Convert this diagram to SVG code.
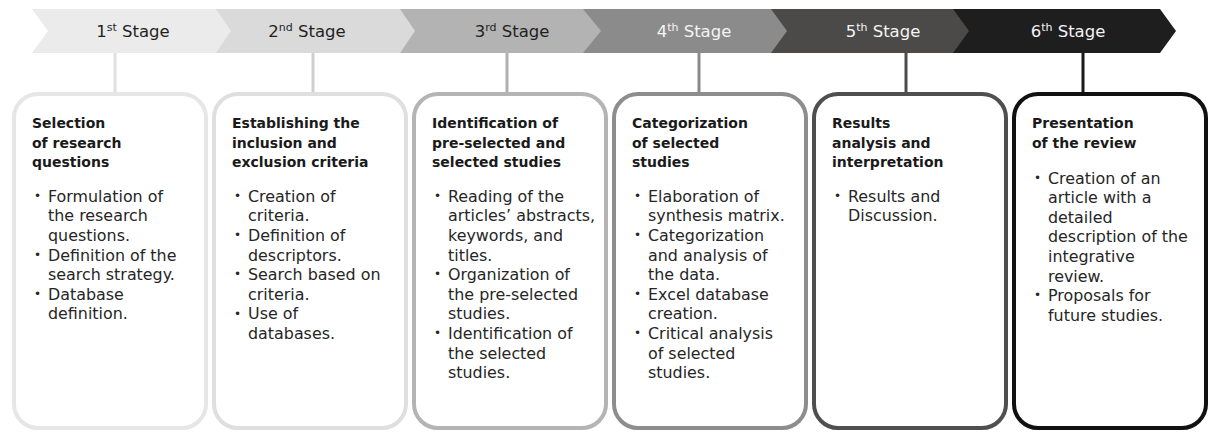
<svg xmlns="http://www.w3.org/2000/svg" width="1210" height="432" viewBox="0 0 1210 432">
<style>
.lbl{font-family:"DejaVu Sans",sans-serif;font-size:16.5px;text-anchor:middle}
.dark{fill:#1f1f1f}
.light{fill:#f4f4f4}
.sup{font-size:11px}
.box{fill:#fff;stroke-width:4}
.ttl{font-family:"DejaVu Sans",sans-serif;font-size:14px;font-weight:bold;fill:#1a1a1a}
.bd{font-family:"DejaVu Sans",sans-serif;font-size:15.9px;fill:#262626}
.bl{font-family:"DejaVu Sans",sans-serif;font-size:12px;fill:#262626}
.con{stroke-width:3;fill:none}
</style>
<rect width="1210" height="432" fill="#fff"/>
<g id="stage6">
<polygon points="953,9 1160,9 1176,31 1160,53 953,53" fill="#1e1e1e"/>
<text class="lbl light" x="1068" y="37">6<tspan class="sup" dy="-6">th</tspan><tspan dy="6"> Stage</tspan></text>
</g>
<g id="stage5">
<polygon points="771,9 953,9 969,31 953,53 771,53" fill="#4b4a49"/>
<text class="lbl light" x="883" y="37">5<tspan class="sup" dy="-6">th</tspan><tspan dy="6"> Stage</tspan></text>
</g>
<g id="stage4">
<polygon points="583,9 771,9 787,31 771,53 583,53" fill="#8b8b8b"/>
<text class="lbl light" x="694" y="37">4<tspan class="sup" dy="-6">th</tspan><tspan dy="6"> Stage</tspan></text>
</g>
<g id="stage3">
<polygon points="400,9 583,9 601,31 583,53 400,53" fill="#b3b3b3"/>
<text class="lbl dark" x="512" y="37">3<tspan class="sup" dy="-6">rd</tspan><tspan dy="6"> Stage</tspan></text>
</g>
<g id="stage2">
<polygon points="216,9 400,9 415,31 400,53 216,53" fill="#dadada"/>
<text class="lbl dark" x="307" y="37">2<tspan class="sup" dy="-6">nd</tspan><tspan dy="6"> Stage</tspan></text>
</g>
<g id="stage1">
<polygon points="32,9 216,9 231,31 216,53 32,53 48,31" fill="#ebebeb"/>
<text class="lbl dark" x="133" y="37">1<tspan class="sup" dy="-6">st</tspan><tspan dy="6"> Stage</tspan></text>
</g>
<g id="connectors">
<line class="con" x1="115" y1="53" x2="115" y2="93" stroke="#e0e0e0"/>
<line class="con" x1="313" y1="53" x2="313" y2="93" stroke="#cfcfcf"/>
<line class="con" x1="507" y1="53" x2="507" y2="93" stroke="#b0b0b0"/>
<line class="con" x1="699" y1="53" x2="699" y2="93" stroke="#8a8a8a"/>
<line class="con" x1="906" y1="53" x2="906" y2="93" stroke="#4d4d4d"/>
<line class="con" x1="1083" y1="53" x2="1083" y2="93" stroke="#1a1a1a"/>
</g>
<g id="box1">
<rect class="box" x="14" y="94" width="192" height="334" rx="24" stroke="#e6e6e6"/>
<text class="ttl" x="32" y="128.3">Selection</text>
<text class="ttl" x="32" y="147.6">of research</text>
<text class="ttl" x="32" y="167">questions</text>
<text class="bl" x="34" y="200">•</text>
<text class="bd" x="48" y="201.7">Formulation of</text>
<text class="bd" x="48" y="221.3">the research</text>
<text class="bd" x="48" y="240.9">questions.</text>
<text class="bl" x="34" y="258.8">•</text>
<text class="bd" x="48" y="260.5">Definition of the</text>
<text class="bd" x="48" y="280.1">search strategy.</text>
<text class="bl" x="34" y="298">•</text>
<text class="bd" x="48" y="299.7">Database</text>
<text class="bd" x="48" y="319.3">definition.</text>
</g>
<g id="box2">
<rect class="box" x="214" y="94" width="192" height="334" rx="24" stroke="#dfdfdf"/>
<text class="ttl" x="232" y="128.3">Establishing the</text>
<text class="ttl" x="232" y="147.6">inclusion and</text>
<text class="ttl" x="232" y="167">exclusion criteria</text>
<text class="bl" x="234" y="200">•</text>
<text class="bd" x="248" y="201.7">Creation of</text>
<text class="bd" x="248" y="221.3">criteria.</text>
<text class="bl" x="234" y="239.2">•</text>
<text class="bd" x="248" y="240.9">Definition of</text>
<text class="bd" x="248" y="260.5">descriptors.</text>
<text class="bl" x="234" y="278.4">•</text>
<text class="bd" x="248" y="280.1">Search based on</text>
<text class="bd" x="248" y="299.7">criteria.</text>
<text class="bl" x="234" y="317.6">•</text>
<text class="bd" x="248" y="319.3">Use of</text>
<text class="bd" x="248" y="338.9">databases.</text>
</g>
<g id="box3">
<rect class="box" x="414" y="94" width="192" height="334" rx="24" stroke="#b4b4b4"/>
<text class="ttl" x="432" y="128.3">Identification of</text>
<text class="ttl" x="432" y="147.6">pre-selected and</text>
<text class="ttl" x="432" y="167">selected studies</text>
<text class="bl" x="434" y="200">•</text>
<text class="bd" x="448" y="201.7">Reading of the</text>
<text class="bd" x="448" y="221.3">articles’ abstracts,</text>
<text class="bd" x="448" y="240.9">keywords, and</text>
<text class="bd" x="448" y="260.5">titles.</text>
<text class="bl" x="434" y="278.4">•</text>
<text class="bd" x="448" y="280.1">Organization of</text>
<text class="bd" x="448" y="299.7">the pre-selected</text>
<text class="bd" x="448" y="319.3">studies.</text>
<text class="bl" x="434" y="337.2">•</text>
<text class="bd" x="448" y="338.9">Identification of</text>
<text class="bd" x="448" y="358.5">the selected</text>
<text class="bd" x="448" y="378.1">studies.</text>
</g>
<g id="box4">
<rect class="box" x="614" y="94" width="192" height="334" rx="24" stroke="#8d8d8d"/>
<text class="ttl" x="632" y="128.3">Categorization</text>
<text class="ttl" x="632" y="147.6">of selected</text>
<text class="ttl" x="632" y="167">studies</text>
<text class="bl" x="634" y="200">•</text>
<text class="bd" x="648" y="201.7">Elaboration of</text>
<text class="bd" x="648" y="221.3">synthesis matrix.</text>
<text class="bl" x="634" y="239.2">•</text>
<text class="bd" x="648" y="240.9">Categorization</text>
<text class="bd" x="648" y="260.5">and analysis of</text>
<text class="bd" x="648" y="280.1">the data.</text>
<text class="bl" x="634" y="298">•</text>
<text class="bd" x="648" y="299.7">Excel database</text>
<text class="bd" x="648" y="319.3">creation.</text>
<text class="bl" x="634" y="337.2">•</text>
<text class="bd" x="648" y="338.9">Critical analysis</text>
<text class="bd" x="648" y="358.5">of selected</text>
<text class="bd" x="648" y="378.1">studies.</text>
</g>
<g id="box5">
<rect class="box" x="814" y="94" width="192" height="334" rx="24" stroke="#4f4f4f"/>
<text class="ttl" x="832" y="128.3">Results</text>
<text class="ttl" x="832" y="147.6">analysis and</text>
<text class="ttl" x="832" y="167">interpretation</text>
<text class="bl" x="834" y="200">•</text>
<text class="bd" x="848" y="201.7">Results and</text>
<text class="bd" x="848" y="221.3">Discussion.</text>
</g>
<g id="box6">
<rect class="box" x="1014" y="94" width="192" height="334" rx="24" stroke="#111" stroke-width="4.5"/>
<text class="ttl" x="1032" y="128.3">Presentation</text>
<text class="ttl" x="1032" y="147.6">of the review</text>
<text class="bl" x="1034" y="181.8">•</text>
<text class="bd" x="1048" y="183.5">Creation of an</text>
<text class="bd" x="1048" y="203.1">article with a</text>
<text class="bd" x="1048" y="222.7">detailed</text>
<text class="bd" x="1048" y="242.3">description of the</text>
<text class="bd" x="1048" y="261.9">integrative</text>
<text class="bd" x="1048" y="281.5">review.</text>
<text class="bl" x="1034" y="299.4">•</text>
<text class="bd" x="1048" y="301.1">Proposals for</text>
<text class="bd" x="1048" y="320.7">future studies.</text>
</g>
</svg>
